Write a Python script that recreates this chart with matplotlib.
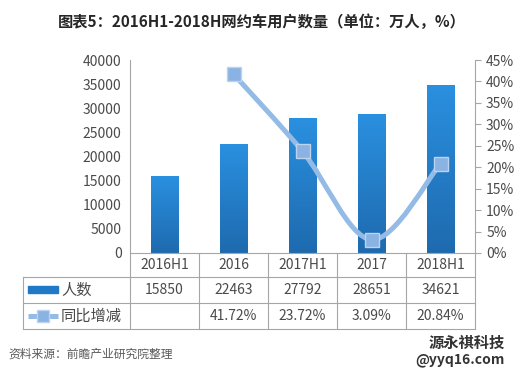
import numpy as np
import matplotlib.pyplot as plt
from matplotlib.path import Path
from matplotlib.patches import PathPatch, Rectangle
from matplotlib.lines import Line2D
from matplotlib.colors import LinearSegmentedColormap
from matplotlib.ticker import FuncFormatter

plt.rcParams['font.family'] = ['Noto Sans CJK SC', 'DejaVu Sans']

# =====================================
# Data
# =====================================

categories = ["2016H1", "2016", "2017H1", "2017", "2018H1"]
users = [15850, 22463, 27792, 28651, 34621]
growth_idx = [1, 2, 3, 4]
growth = [41.72, 23.72, 3.09, 20.84]
growth_labels = ["", "41.72%", "23.72%", "3.09%", "20.84%"]

title = "图表5：2016H1-2018H网约车用户数量（单位：万人，%）"
source = "资料来源：前瞻产业研究院整理"

# =====================================
# Layout helpers (pixel -> figure fraction)
# =====================================

W, H = 523, 374


def fx(x):
    return x / W


def fy(y):
    return 1 - y / H


bar_color = "#2079C6"
line_color = "#93BBE6"
grid_color = "#A6A6A6"
text_color = "#4A4A4A"

bar_cmap = LinearSegmentedColormap.from_list("bar", ["#1E6AAE", "#2A90E0"])

fig = plt.figure(figsize=(5.23, 3.74), dpi=100)
fig.patch.set_facecolor("white")

ax = fig.add_axes([fx(130), fy(253), fx(475) - fx(130), fy(60) - fy(253)])
ax2 = ax.twinx()

# =====================================
# Bars (vertical gradient)
# =====================================

x = np.arange(len(categories))
bar_w = 0.4
bars = ax.bar(x, users, width=bar_w, color="none", zorder=2)
grad = np.linspace(0, 1, 256).reshape(-1, 1)
for b in bars:
    bx, bh = b.get_x(), b.get_height()
    ax.imshow(grad, cmap=bar_cmap, origin="lower", aspect="auto",
              extent=(bx, bx + b.get_width(), 0, bh), zorder=2)

ax.set_xlim(-0.5, len(categories) - 0.5)
ax.set_ylim(0, 40000)
ax.set_yticks(np.arange(0, 40001, 5000))
ax.tick_params(axis="y", length=0, labelsize=10, labelcolor=text_color, pad=6)
ax.set_xticks([])

for s in ["top", "bottom", "right"]:
    ax.spines[s].set_visible(False)
ax.spines["left"].set_color(grid_color)
ax.spines["left"].set_linewidth(0.8)

# =====================================
# Smoothed growth line
# =====================================

ax2.set_ylim(0, 45)
ax2.set_yticks(np.arange(0, 46, 5))
ax2.yaxis.set_major_formatter(FuncFormatter(lambda v, p: f"{v:.0f}%"))
ax2.tick_params(axis="y", length=4, width=0.8, color=grid_color,
                labelsize=10, labelcolor=text_color, pad=4)
for s in ["top", "bottom", "left"]:
    ax2.spines[s].set_visible(False)
ax2.spines["right"].set_color(grid_color)
ax2.spines["right"].set_linewidth(0.8)

pts = np.column_stack([growth_idx, growth]).astype(float)
verts = [tuple(pts[0])]
codes = [Path.MOVETO]
n = len(pts)
for i in range(n - 1):
    p0 = pts[i - 1] if i > 0 else pts[i]
    p1 = pts[i]
    p2 = pts[i + 1]
    p3 = pts[i + 2] if i + 2 < n else pts[i + 1]
    c1 = p1 + (p2 - p0) / 6
    c2 = p2 - (p3 - p1) / 6
    verts += [tuple(c1), tuple(c2), tuple(p2)]
    codes += [Path.CURVE4] * 3

curve = PathPatch(Path(verts, codes), fill=False, edgecolor=line_color,
                  linewidth=3.6, zorder=3, capstyle="round")
ax2.add_patch(curve)
ax2.plot(growth_idx, growth, linestyle="none", marker="s", markersize=10,
         markerfacecolor="#8AB2E2", markeredgecolor="#BCD3EF",
         markeredgewidth=1, zorder=4)

# =====================================
# Data table
# =====================================

def hline(y, x0, x1):
    fig.add_artist(Line2D([fx(x0), fx(x1)], [fy(y), fy(y)],
                          color=grid_color, linewidth=0.8))


def vline(xp, y0, y1):
    fig.add_artist(Line2D([fx(xp), fx(xp)], [fy(y0), fy(y1)],
                          color=grid_color, linewidth=0.8))


col_edges = [130, 199, 268, 337, 406, 475]
hline(253, 130, 475)
for yy in [277, 303, 329]:
    hline(yy, 23, 475)
vline(23, 277, 329)
for xe in col_edges:
    vline(xe, 253, 329)

centers = [(col_edges[i] + col_edges[i + 1]) / 2 for i in range(len(categories))]
for cx, cat, val, g in zip(centers, categories, users, growth_labels):
    fig.text(fx(cx), fy(265), cat, ha="center", va="center",
             fontsize=10, color=text_color)
    fig.text(fx(cx), fy(290), f"{val}", ha="center", va="center",
             fontsize=10, color=text_color)
    fig.text(fx(cx), fy(316), g, ha="center", va="center",
             fontsize=10, color=text_color)

# legend keys
fig.add_artist(Rectangle((fx(28), fy(293)), fx(58) - fx(28), fy(286) - fy(293),
                         color=bar_color, transform=fig.transFigure))
fig.text(fx(61), fy(290), "人数", ha="left", va="center",
         fontsize=11, color=text_color)

fig.add_artist(Line2D([fx(28), fx(58)], [fy(316), fy(316)], color=line_color,
                      linewidth=3.6, solid_capstyle="butt"))
fig.add_artist(Line2D([fx(43)], [fy(316)], marker="s", markersize=8,
                      markerfacecolor="#8AB2E2", markeredgecolor="#BCD3EF",
                      linestyle="none"))
fig.text(fx(61), fy(316), "同比增减", ha="left", va="center",
         fontsize=11, color=text_color)

# =====================================
# Title, source, watermark
# =====================================

fig.text(fx(262), fy(22), title, ha="center", va="center",
         fontsize=11, fontweight="bold", color="#262626")
fig.text(fx(8), fy(354), source, ha="left", va="center",
         fontsize=8.5, color="#595959", style="italic")
fig.text(fx(505), fy(343), "源永祺科技", ha="right", va="center",
         fontsize=11, fontweight="bold", color="#333333")
fig.text(fx(505), fy(360), "@yyq16.com", ha="right", va="center",
         fontsize=10, fontweight="bold", color="#333333")

fig.savefig("out.png", dpi=100)
